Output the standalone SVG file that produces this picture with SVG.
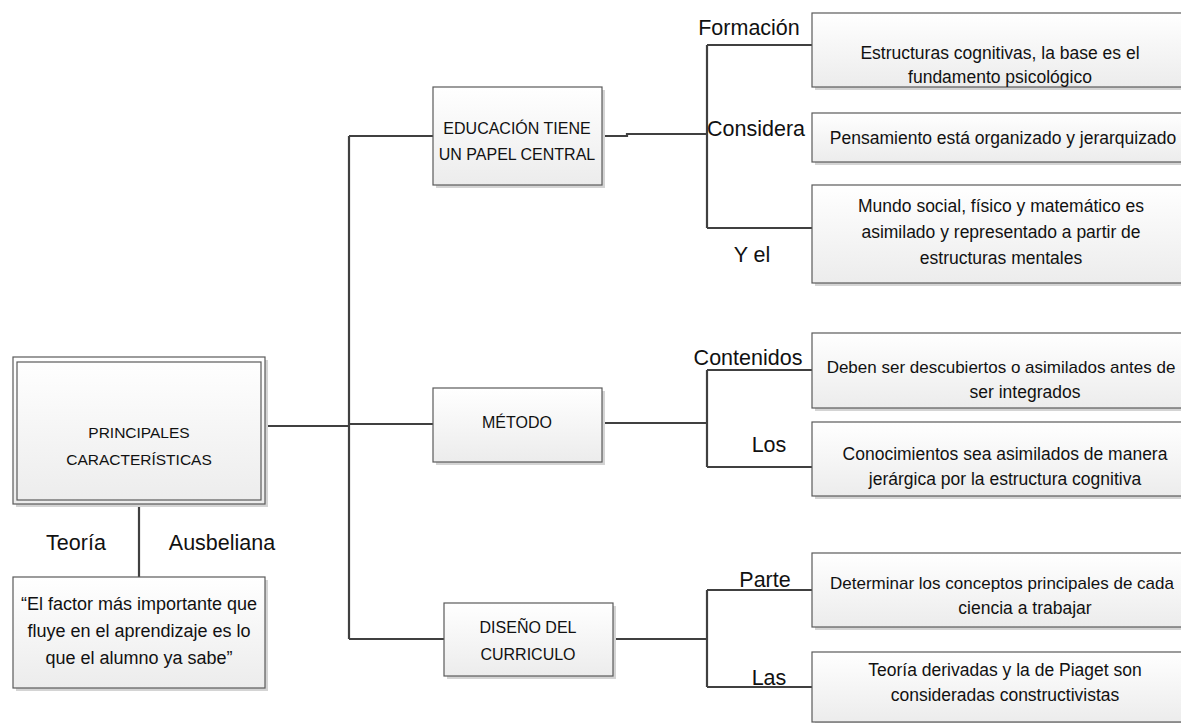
<svg xmlns="http://www.w3.org/2000/svg" width="1181" height="723" viewBox="0 0 1181 723">
  <defs>
    <linearGradient id="boxFill" x1="0" y1="0" x2="0" y2="1">
      <stop offset="0" stop-color="#ffffff"/>
      <stop offset="1" stop-color="#ececec"/>
    </linearGradient>
    <style>
      .box { fill: url(#boxFill); stroke: #5a5a5a; stroke-width: 1.2; }
      .shadow { fill: #d4d4d4; }
      .inner { fill: none; stroke: #5a5a5a; stroke-width: 1.2; }
      .wire { fill: none; stroke: #404040; stroke-width: 2.2; }
      text { font-family: "Liberation Sans", Arial, sans-serif; fill: #111; text-anchor: middle; }
      .t-main { font-size: 15.5px; }
      .t-mid { font-size: 16px; }
      .t-leaf { font-size: 17.5px; }
      .t-wide { font-size: 17px; }
      .t-quote { font-size: 18px; }
      .t-label { font-size: 21.5px; }
    </style>
  </defs>

  <rect width="1181" height="723" fill="#ffffff"/>

  <!-- connectors -->
  <g id="connectors">
    <!-- trunk from the main box -->
    <path class="wire" d="M265,426 H349 M349,136 V639 M349,136 H433 M349,424 H433 M349,639 H444"/>
    <path class="wire" d="M265,423 V437"/>
    <!-- first branch -->
    <path class="wire" d="M602,136 H627 V134 H707 M707,45 V228 M707,45 H812 M707,228 H812"/>
    <!-- second branch -->
    <path class="wire" d="M602,423 H707 M602,406 V423 M707,370 V467 M707,370 H812 M707,467 H812"/>
    <!-- third branch -->
    <path class="wire" d="M613,639 H707 M707,590 V687 M707,590 H812 M707,687 H812"/>
    <!-- theory link -->
    <path class="wire" d="M139,504 V577"/>
  </g>

  <!-- connector labels -->
  <g id="labels">
    <text class="t-label" x="749" y="35">Formación</text>
    <text class="t-label" x="756" y="136">Considera</text>
    <text class="t-label" x="752" y="262">Y el</text>
    <text class="t-label" x="748" y="365">Contenidos</text>
    <text class="t-label" x="769" y="452">Los</text>
    <text class="t-label" x="765" y="587">Parte</text>
    <text class="t-label" x="769" y="685">Las</text>
    <text class="t-label" x="76" y="550">Teoría</text>
    <text class="t-label" x="222" y="550">Ausbeliana</text>
  </g>

  <!-- root node -->
  <g id="principales">
    <rect class="shadow" x="16" y="360" width="252" height="147"/>
    <rect class="box" x="13" y="357" width="252" height="147"/>
    <rect class="inner" x="17" y="362" width="244" height="138"/>
    <text class="t-main" x="139" y="438">PRINCIPALES</text>
    <text class="t-main" x="139" y="465">CARACTERÍSTICAS</text>
  </g>

  <g id="cita">
    <rect class="shadow" x="16" y="580" width="252" height="111"/>
    <rect class="box" x="13" y="577" width="252" height="111"/>
    <text class="t-quote" x="139" y="610">“El factor más importante que</text>
    <text class="t-quote" x="139" y="637">fluye en el aprendizaje es lo</text>
    <text class="t-quote" x="139" y="664">que el alumno ya sabe”</text>
  </g>

  <!-- second level -->
  <g id="educacion">
    <rect class="shadow" x="436" y="90" width="169" height="98"/>
    <rect class="box" x="433" y="87" width="169" height="98"/>
    <text class="t-mid" x="517" y="134">EDUCACIÓN TIENE</text>
    <text class="t-mid" x="517" y="160">UN PAPEL CENTRAL</text>
  </g>

  <g id="metodo">
    <rect class="shadow" x="436" y="391" width="169" height="74"/>
    <rect class="box" x="433" y="388" width="169" height="74"/>
    <text class="t-mid" x="517" y="428">MÉTODO</text>
  </g>

  <g id="diseno">
    <rect class="shadow" x="447" y="606" width="169" height="73"/>
    <rect class="box" x="444" y="603" width="169" height="73"/>
    <text class="t-mid" x="528" y="633">DISEÑO DEL</text>
    <text class="t-mid" x="528" y="660">CURRICULO</text>
  </g>

  <!-- leaves -->
  <g id="estructuras">
    <rect class="shadow" x="815" y="16" width="376" height="74"/>
    <rect class="box" x="812" y="13" width="376" height="74"/>
    <text class="t-leaf" x="1000" y="59">Estructuras cognitivas, la base es el</text>
    <text class="t-leaf" x="1000" y="83">fundamento psicológico</text>
  </g>

  <g id="pensamiento">
    <rect class="shadow" x="815" y="116" width="376" height="49"/>
    <rect class="box" x="812" y="113" width="376" height="49"/>
    <text class="t-leaf" x="1003" y="144">Pensamiento está organizado y jerarquizado</text>
  </g>

  <g id="mundo">
    <rect class="shadow" x="815" y="188" width="376" height="98"/>
    <rect class="box" x="812" y="185" width="376" height="98"/>
    <text class="t-leaf" x="1001" y="212">Mundo social, físico y matemático es</text>
    <text class="t-leaf" x="1001" y="238">asimilado y representado a partir de</text>
    <text class="t-leaf" x="1001" y="264">estructuras mentales</text>
  </g>

  <g id="deben">
    <rect class="shadow" x="815" y="336" width="426" height="75"/>
    <rect class="box" x="812" y="333" width="426" height="75"/>
    <text class="t-wide" x="1001" y="373">Deben ser descubiertos o asimilados antes de</text>
    <text class="t-leaf" x="1025" y="398">ser integrados</text>
  </g>

  <g id="conocimientos">
    <rect class="shadow" x="815" y="425" width="376" height="74"/>
    <rect class="box" x="812" y="422" width="376" height="74"/>
    <text class="t-leaf" x="1005" y="460">Conocimientos sea asimilados de manera</text>
    <text class="t-leaf" x="1005" y="485">jerárgica por la estructura cognitiva</text>
  </g>

  <g id="determinar">
    <rect class="shadow" x="815" y="556" width="426" height="74"/>
    <rect class="box" x="812" y="553" width="426" height="74"/>
    <text class="t-wide" x="1002" y="589">Determinar los conceptos principales de cada</text>
    <text class="t-leaf" x="1025" y="614">ciencia a trabajar</text>
  </g>

  <g id="teoria">
    <rect class="shadow" x="815" y="655" width="376" height="72"/>
    <rect class="box" x="812" y="652" width="376" height="70"/>
    <text class="t-leaf" x="1005" y="676">Teoría derivadas y la de Piaget son</text>
    <text class="t-leaf" x="1005" y="701">consideradas constructivistas</text>
  </g>
</svg>
